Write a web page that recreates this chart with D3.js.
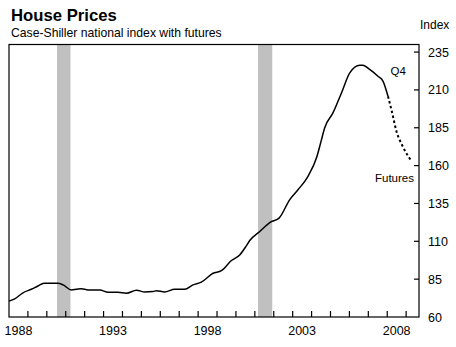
<!DOCTYPE html>
<html><head><meta charset="utf-8">
<script src="https://cdn.jsdelivr.net/npm/d3@7"></script>
<style>body{margin:0;background:#fff}svg{display:block;font-family:Arial,"Liberation Sans",sans-serif}</style>
</head><body><svg id="c" width="456" height="347"></svg>
<script>
// Case-Shiller national index (decimal year, index value)
const histYears = [1988.0,1988.3,1988.74,1989.18,1989.53,1989.85,1990.59,1990.86,1991.3,1991.56,1991.83,1992.18,1992.8,1993.24,1993.76,1994.21,1994.74,1995.18,1995.62,1995.79,1996.23,1996.76,1997.29,1997.73,1998.17,1998.79,1999.23,1999.76,2000.2,2000.55,2000.73,2001.26,2001.79,2002.28,2002.84,2003.28,2003.81,2004.27,2004.5,2004.69,2005.13,2005.58,2006.02,2006.55,2006.72,2007.07,2007.51,2007.78,2008.04];
const histValues = [70.5,72,76,78.3,80.5,82.3,82.3,81.2,77.9,78.3,78.7,77.9,77.9,76.3,76.3,75.7,77.7,76.5,76.8,77.4,76.5,78.3,78.3,81.2,83,88.9,90.6,97.3,101,107,110.5,116.5,122.4,125.3,137.4,144,152.9,165.5,176,184.9,194.8,208,221.3,226.3,226.3,223.5,219,215.7,205.8];
const futYears = [2008.04,2008.22,2008.49,2008.84,2009.28];
const futValues = [205.8,197,182.6,172.2,163];
const recessions = [[1990.54,1991.25],[2001.17,2001.92]];
const yTicks = [60,85,110,135,160,185,210,235];
const xLabels = [1988,1993,1998,2003,2008];

const svg = d3.select("#c");
const L=9, R=419, T=44.5, B=317;
const x = d3.scaleLinear().domain([1988, 2009.68]).range([L,R]);
const y = d3.scaleLinear().domain([60,240]).range([B,T]);

svg.append("g").selectAll("rect").data(recessions).join("rect")
  .attr("x",d=>x(d[0])).attr("width",d=>x(d[1])-x(d[0]))
  .attr("y",T).attr("height",B-T).attr("fill","#c0c0c0");

const line = d3.line().x(d=>x(d[0])).y(d=>y(d[1])).curve(d3.curveMonotoneX);
svg.append("path").datum(histYears.map((t,i)=>[t,histValues[i]]))
  .attr("d",line).attr("fill","none").attr("stroke","#000").attr("stroke-width",1.5);
svg.append("path").datum(futYears.map((t,i)=>[t,futValues[i]]))
  .attr("d",line).attr("fill","none").attr("stroke","#000").attr("stroke-width",2)
  .attr("stroke-dasharray","2.5,2.5");

// frame
svg.append("rect").attr("x",L).attr("y",T).attr("width",R-L).attr("height",B-T)
  .attr("fill","none").attr("stroke","#000").attr("stroke-width",1.2);

// x axis ticks (inward) and labels centered mid-year
const xt = d3.range(1989,2010);
svg.append("g").selectAll("line").data(xt).join("line")
  .attr("x1",d=>x(d)).attr("x2",d=>x(d)).attr("y1",B).attr("y2",B-6)
  .attr("stroke","#000").attr("stroke-width",1.2);
svg.append("g").selectAll("text").data(xLabels).join("text")
  .attr("x",d=>x(d+0.5)).attr("y",335).attr("text-anchor","middle")
  .attr("font-size","12.5px").text(d=>d);

// y axis on right
svg.append("g").selectAll("line").data(yTicks.slice(1)).join("line")
  .attr("x1",R).attr("x2",R-5).attr("y1",d=>y(d)).attr("y2",d=>y(d))
  .attr("stroke","#000").attr("stroke-width",1.2);
svg.append("g").selectAll("text").data(yTicks).join("text")
  .attr("x",428).attr("y",d=>y(d)+4.5).attr("font-size","12.5px").text(d=>d);
svg.append("text").attr("x",420).attr("y",29).attr("font-size","12px").text("Index");

svg.append("text").attr("x",11).attr("y",21).attr("font-size","16.7px").attr("font-weight","bold").text("House Prices");
svg.append("text").attr("x",11).attr("y",37).attr("font-size","12.2px").text("Case-Shiller national index with futures");

svg.append("text").attr("x",390.5).attr("y",75).attr("font-size","11.5px").text("Q4");
svg.append("text").attr("x",375).attr("y",182).attr("font-size","11.5px").text("Futures");
</script></body></html>
